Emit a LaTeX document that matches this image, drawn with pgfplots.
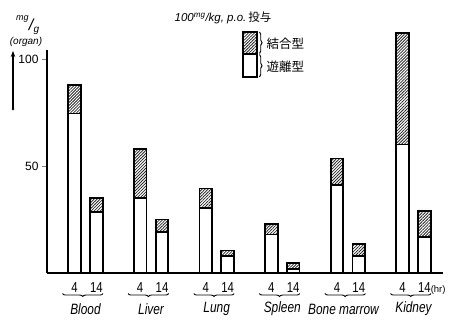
\documentclass[border=0pt]{standalone}
\usepackage{fontspec}
\setmainfont{Liberation Sans}
\newfontfamily\cjk{Noto Sans CJK JP}
\usepackage{pgfplots}
\usepackage{pgfplotstable}
\pgfplotsset{compat=1.18}
\usetikzlibrary{patterns.meta,decorations.pathreplacing,arrows.meta}

% organ concentrations (mg/g organ) at 4 h and 14 h after 100 mg/kg p.o.
% x: 4 h bar at 3k, 14 h bar at 3k+1 for organ k
\pgfplotstableread{
x  free  bound
0  74.5  13.5
1  28.5  6.5
3  35    23
4  19    6
6  30.5  9
7  8     2.5
9  18    5
10 2     2.5
12 41    12.5
13 8     5.5
15 60    52
16 17    12
}\organdata

\tikzset{hatch/.style={pattern={Lines[angle=45,distance=2.1pt,line width=0.8pt]},pattern color=black!85}}
\newcommand\organfont{\itshape\fontsize{12.5}{13}\selectfont}
% narrow, tall lettering
\newcommand\tall[1]{\scalebox{0.95}[1.2]{#1}}

\begin{document}
\begin{tikzpicture}
\path[use as bounding box] (0pt,0pt) rectangle (454pt,320pt);
\begin{axis}[
  at={(47pt,47pt)}, anchor=south west,
  scale only axis, width=396pt, height=222.6pt,
  xmin=-1.26, xmax=16.85, ymin=0, ymax=104,
  axis x line*=bottom, axis y line*=left,
  axis line style={line width=1.2pt},
  ybar stacked, bar width=12.5pt,
  clip=false,
  xtick={0,1,3,4,6,7,9,10,12,13,15,16},
  xticklabels={\tall{4},\tall{14},\tall{4},\tall{14},\tall{4},\tall{14},\tall{4},\tall{14},\tall{4},\tall{14},\tall{4},{\tall{14}\rlap{\fontsize{9.5}{10}\selectfont(hr)}}},
  xtick style={draw=none},
  ytick={50,100},
  ytick style={line width=0.9pt},
  tick align=outside, major tick length=5pt,
  /pgf/number format/assume math mode=true,
  tick label style={font=\fontsize{12}{12}\selectfont},
  xticklabel style={yshift=-1pt},
]
\addplot[fill=white, draw=black, line width=1.8pt] table[x=x,y=free]{\organdata};
\addplot[hatch, draw=black, line width=1.8pt] table[x=x,y=bound]{\organdata};

% braces grouping the two sampling times of each organ
\draw[decorate,decoration={brace,mirror,amplitude=3pt},line width=0.9pt] (axis cs:-0.55,-9.6) -- (axis cs:1.3,-9.6);
\draw[decorate,decoration={brace,mirror,amplitude=3pt},line width=0.9pt] (axis cs:2.45,-9.6) -- (axis cs:4.3,-9.6);
\draw[decorate,decoration={brace,mirror,amplitude=3pt},line width=0.9pt] (axis cs:5.45,-9.6) -- (axis cs:7.3,-9.6);
\draw[decorate,decoration={brace,mirror,amplitude=3pt},line width=0.9pt] (axis cs:8.45,-9.6) -- (axis cs:10.3,-9.6);
\draw[decorate,decoration={brace,mirror,amplitude=3pt},line width=0.9pt] (axis cs:11.45,-9.6) -- (axis cs:13.3,-9.6);
\draw[decorate,decoration={brace,mirror,amplitude=3pt},line width=0.9pt] (axis cs:14.45,-9.6) -- (axis cs:16.3,-9.6);

\node[font=\organfont] at (axis cs:0.5,-16.8) {\tall{Blood}};
\node[font=\organfont] at (axis cs:3.5,-16.8) {\tall{Liver}};
\node[font=\organfont] at (axis cs:6.5,-16.8) {\tall{Lung}};
\node[font=\organfont] at (axis cs:9.5,-16.8) {\tall{Spleen}};
\node[font=\organfont] at (axis cs:12.3,-16.8) {\tall{Bone marrow}};
\node[font=\organfont] at (axis cs:15.5,-16.8) {\tall{Kidney}};
\end{axis}

% title
\node[font=\fontsize{11.5}{12}\selectfont] at (223pt,302pt) {\itshape 100\textsuperscript{mg}/kg, p.o.\,{\upshape\cjk 投与}};

% unit label and arrow
\node[font=\itshape\fontsize{9}{10}\selectfont] at (22.5pt,301pt) {mg};
\node[font=\itshape\fontsize{16}{16}\selectfont] at (31pt,295pt) {/};
\node[font=\itshape\fontsize{10}{10}\selectfont] at (36.5pt,289pt) {g};
\node[font=\itshape\fontsize{10}{11}\selectfont] at (26pt,278pt) {(organ)};
\draw[-{Stealth[length=6pt,width=4.5pt]}, line width=1.5pt] (13pt,211pt) -- (13pt,269pt);
\fill (13pt,211pt) circle (1.4pt);

% key
\fill[white] (243pt,243pt) rectangle (257pt,288pt);
\fill[hatch] (243pt,266pt) rectangle (257pt,288pt);
\draw[line width=1.3pt] (243pt,243pt) rectangle (257pt,288pt);
\draw[line width=1.3pt] (243pt,266pt) -- (257pt,266pt);
\draw[decorate,decoration={brace,amplitude=2.5pt},line width=0.9pt] (259.5pt,288pt) -- (259.5pt,266.5pt);
\draw[decorate,decoration={brace,amplitude=2.5pt},line width=0.9pt] (259.5pt,265.5pt) -- (259.5pt,243pt);
\node[anchor=west,font=\cjk\fontsize{12.5}{13}\selectfont] at (263pt,276.5pt) {結合型};
\node[anchor=west,font=\cjk\fontsize{12.5}{13}\selectfont] at (263pt,253.5pt) {遊離型};
\end{tikzpicture}
\end{document}
